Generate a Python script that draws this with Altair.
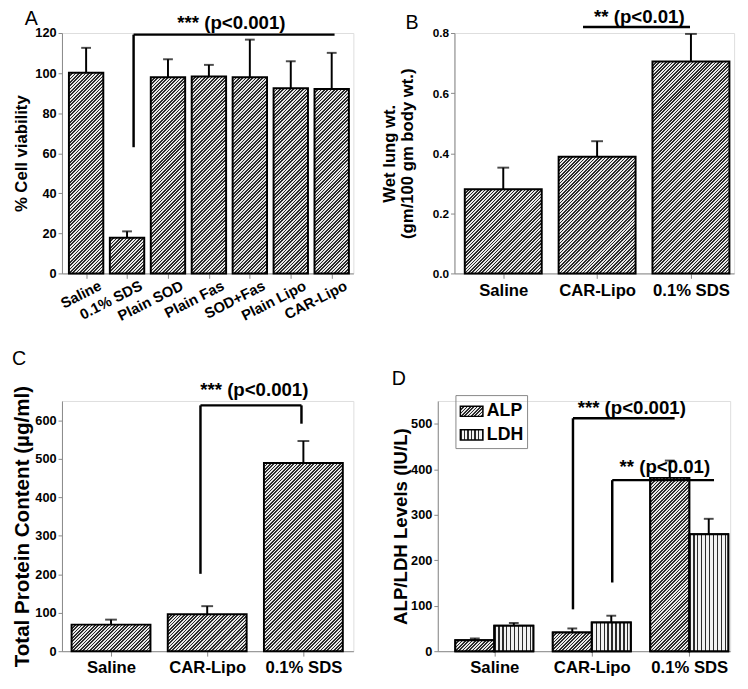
import math
import json
import altair as alt
import pandas as pd

FONT = "Liberation Sans"
DARK = "#2b2b2b"
LIGHT = "#e8e8e8"

# ---------------- data ----------------
a_cats = ["Saline", "0.1% SDS", "Plain SOD", "Plain Fas", "SOD+Fas", "Plain Lipo", "CAR-Lipo"]
a_vals = [100.2, 17.8, 97.9, 98.3, 97.9, 92.4, 92.1]
a_err = [12.4, 3.2, 9.0, 5.8, 18.8, 13.5, 18.0]

b_cats = ["Saline", "CAR-Lipo", "0.1% SDS"]
b_vals = [0.280, 0.388, 0.705]
b_err = [0.072, 0.052, 0.092]

c_cats = ["Saline", "CAR-Lipo", "0.1% SDS"]
c_vals = [69, 96, 489]
c_err = [13, 21, 57]

d_cats = ["Saline", "CAR-Lipo", "0.1% SDS"]
d_series = ["ALP", "LDH"]
d_alp = [24, 41, 381]
d_alp_err = [4, 9, 38]
d_ldh = [56, 63, 257]
d_ldh_err = [6, 15, 34]

a_note = "*** (p<0.001)"
b_note = "** (p<0.01)"
c_note = "*** (p<0.001)"
d_note1 = "*** (p<0.001)"
d_note2 = "** (p<0.01)"


# ---------------- pattern helpers (style only) ----------------
def diag_gradient(w, h, period=2.4):
    L = w + h
    step = period * math.sqrt(2)
    n = int(math.ceil(L / step))
    stops = []
    for k in range(n):
        a = min(1.0, k * step / L)
        b = min(1.0, (k + 0.5) * step / L)
        c = min(1.0, (k + 1) * step / L)
        stops += [
            {"offset": round(a, 4), "color": DARK},
            {"offset": round(b, 4), "color": DARK},
            {"offset": round(b, 4), "color": LIGHT},
            {"offset": round(c, 4), "color": LIGHT},
        ]
    kk = (w + h) / (w * w + h * h)
    return {"gradient": "linear", "x1": 0, "y1": 0, "x2": w * kk, "y2": h * kk, "stops": stops}


def vert_gradient(w, period=4.0, dark_frac=0.35):
    n = int(math.ceil(w / period))
    stops = []
    for k in range(n):
        a = min(1.0, k * period / w)
        b = min(1.0, (k + dark_frac) * period / w)
        c = min(1.0, (k + 1) * period / w)
        stops += [
            {"offset": round(a, 4), "color": DARK},
            {"offset": round(b, 4), "color": DARK},
            {"offset": round(b, 4), "color": "#f2f2f2"},
            {"offset": round(c, 4), "color": "#f2f2f2"},
        ]
    return {"gradient": "linear", "x1": 0, "y1": 0, "x2": 1, "y2": 0, "stops": stops}


def label_expr(labels):
    return "[" + ",".join("'" + l + "'" for l in labels) + "][datum.value]"


def x_axis(labels, size, angle=0, align="center", offset=0, pad=4):
    return alt.Axis(
        values=list(range(len(labels))), labelExpr=label_expr(labels), title=None,
        labelFontSize=size, labelAngle=angle, labelAlign=align, labelOffset=offset,
        labelPadding=pad, labelBaseline="top" if angle == 0 else "middle",
        labelFont=FONT, labelFontWeight="bold", labelColor="black",
        grid=False, tickSize=5, labelOverlap=False,
    )


def y_axis(ticks, title, title_size, lab_size, fmt, title_pad, line_height=None):
    kw = dict(values=ticks, title=title, titleFontSize=title_size, labelFontSize=lab_size,
              format=fmt, grid=False, tickSize=4, titlePadding=title_pad, labelPadding=2,
              labelFont=FONT, labelFontWeight="bold", labelColor="black",
              titleFont=FONT, titleFontWeight="bold", titleColor="black")
    if line_height:
        kw["titleLineHeight"] = line_height
    return alt.Axis(**kw)


def annotations(brackets, notes, xs, ys, xax, yax):
    bdf = pd.DataFrame(brackets, columns=["x", "x2", "y", "y2"])
    ndf = pd.DataFrame(notes, columns=["x", "y", "t"])
    rules = alt.Chart(bdf).mark_rule(color="black", strokeWidth=2.5).encode(
        x=alt.X("x:Q", scale=xs, axis=xax), x2="x2:Q",
        y=alt.Y("y:Q", scale=ys, axis=yax), y2="y2:Q")
    texts = alt.Chart(ndf).mark_text(font=FONT, fontWeight="bold", fontSize=19, color="black",
                                     baseline="middle").encode(
        x=alt.X("x:Q", scale=xs, axis=xax), y=alt.Y("y:Q", scale=ys, axis=yax), text="t:N")
    return [rules, texts]


def letter_title(letter, dx, off):
    return alt.TitleParams(letter, anchor="start", frame="group", dx=dx, offset=off,
                           fontSize=20, font=FONT, fontWeight="normal", color="black")


def panel(letter, title_dx, title_off, cats, vals, errs, xdom, ydom, yticks, ytitle,
          ytitle_size, ylab_size, yfmt, ytitle_pad, width, height, bar_w, cap_w, xax,
          brackets, notes, line_height=None):
    xs = alt.Scale(domain=xdom, nice=False, zero=False)
    ys = alt.Scale(domain=ydom, nice=False)
    yax = y_axis(yticks, ytitle, ytitle_size, ylab_size, yfmt, ytitle_pad, line_height)
    n = len(cats)
    upx = width / (xdom[1] - xdom[0])
    df = pd.DataFrame({
        "i": list(range(n)), "v": vals,
        "top": [v + e for v, e in zip(vals, errs)],
        "lo": [i - bar_w / 2 for i in range(n)],
        "hi": [i + bar_w / 2 for i in range(n)],
        "z": [0] * n,
    })
    layers = []
    for i in range(n):
        g = diag_gradient(bar_w * upx, vals[i] / (ydom[1] - ydom[0]) * height)
        layers.append(
            alt.Chart(df).transform_filter(alt.datum.i == i)
            .mark_bar(fill=g, stroke="black", strokeWidth=2)
            .encode(x=alt.X("lo:Q", scale=xs, axis=xax), x2="hi:Q",
                    y=alt.Y("v:Q", scale=ys, axis=yax), y2="z:Q")
        )
    layers.append(
        alt.Chart(df).mark_rule(color="black", strokeWidth=2)
        .encode(x=alt.X("i:Q", scale=xs, axis=xax), y=alt.Y("v:Q", scale=ys, axis=yax), y2="top:Q")
    )
    layers.append(
        alt.Chart(df).mark_tick(orient="horizontal", color="black", size=cap_w, thickness=2)
        .encode(x=alt.X("i:Q", scale=xs, axis=xax), y=alt.Y("top:Q", scale=ys, axis=yax))
    )
    layers += annotations(brackets, notes, xs, ys, xax, yax)
    return alt.layer(*layers).properties(width=width, height=height,
                                         title=letter_title(letter, title_dx, title_off))


# ---------------- panel A ----------------
A = panel(
    "A", -38, -15, a_cats, a_vals, a_err, [-0.59, 6.53], [0, 120], [0, 20, 40, 60, 80, 100, 120],
    "% Cell viability", 17, 13, "d", 4, 297, 245, 0.84, 10,
    x_axis(a_cats, 15, angle=-27, align="right", offset=14, pad=6),
    [(1.16, 6.07, 119.2, 119.2), (1.16, 1.16, 119.2, 63)],
    [(3.55, 124.8, a_note)],
)

# ---------------- panel B ----------------
B = panel(
    "B", -50, -25, b_cats, b_vals, b_err, [-0.52, 2.46], [0, 0.8], [0, 0.2, 0.4, 0.6, 0.8],
    ["Wet lung wt.", "(gm/100 gm body wt.)"], 17, 12, ".1f", 16, 285, 245, 0.82, 12,
    x_axis(b_cats, 17, pad=4),
    [(0.85, 1.99, 0.82, 0.82)],
    [(1.45, 0.854, b_note)],
    line_height=18,
)

# ---------------- panel C ----------------
C = panel(
    "C", -51, 13, c_cats, c_vals, c_err, [-0.51, 2.52], [0, 650], [0, 100, 200, 300, 400, 500, 600],
    "Total Protein Content (µg/ml)", 21, 13, "d", 2, 297, 255, 0.82, 12,
    x_axis(c_cats, 17, pad=4),
    [(0.93, 1.98, 638.6, 638.6), (0.93, 0.93, 638.6, 201), (1.98, 1.98, 638.6, 591)],
    [(1.49, 677, c_note)],
)

# ---------------- panel D ----------------
d_xs = alt.Scale(domain=[-0.58, 2.42], nice=False, zero=False)
d_ys = alt.Scale(domain=[0, 550], nice=False)
d_xax = x_axis(d_cats, 17, pad=4)
d_yax = y_axis([0, 100, 200, 300, 400, 500], "ALP/LDH Levels (IU/L)", 19, 13, "d", 0)
D_W, D_H, D_BW = 298, 255, 0.4
d_upx = D_W / 3.0
rows = []
for i in range(3):
    rows.append({"s": "ALP", "g": i, "lo": i - D_BW, "hi": i, "c": i - D_BW / 2,
                 "v": d_alp[i], "top": d_alp[i] + d_alp_err[i], "z": 0})
for i in range(3):
    rows.append({"s": "LDH", "g": i, "lo": i, "hi": i + D_BW, "c": i + D_BW / 2,
                 "v": d_ldh[i], "top": d_ldh[i] + d_ldh_err[i], "z": 0})
ddf = pd.DataFrame(rows)

leg_alp = diag_gradient(23, 10.4, period=2.4)
leg_ldh = vert_gradient(23, period=3.6)
legend = alt.Legend(
    orient="none", legendX=18, legendY=-6, title=None, labelFont=FONT, labelFontSize=18,
    labelFontWeight="bold", labelColor="black", labelOffset=3,
    symbolType="M-1,-0.45L1,-0.45L1,0.45L-1,0.45Z", symbolSize=529,
    symbolStrokeColor="black", symbolStrokeWidth=1.5, strokeColor="#888888",
    padding=4, rowPadding=2, symbolOpacity=1,
)
fill_scale = alt.Scale(
    domain=d_series,
    range=[{"expr": json.dumps(leg_alp)}, {"expr": json.dumps(leg_ldh)}],
)
d_layers = [
    alt.Chart(ddf).mark_bar(stroke="black", strokeWidth=2).encode(
        x=alt.X("lo:Q", scale=d_xs, axis=d_xax), x2="hi:Q",
        y=alt.Y("v:Q", scale=d_ys, axis=d_yax), y2="z:Q",
        fill=alt.Fill("s:N", scale=fill_scale, legend=legend),
    )
]
for r in rows:
    w = D_BW * d_upx
    h = r["v"] / 550 * D_H
    g = diag_gradient(w, h) if r["s"] == "ALP" else vert_gradient(w, period=4.0)
    d_layers.append(
        alt.Chart(ddf).transform_filter((alt.datum.s == r["s"]) & (alt.datum.g == r["g"]))
        .mark_bar(fill=g, stroke="black", strokeWidth=2)
        .encode(x=alt.X("lo:Q", scale=d_xs, axis=d_xax), x2="hi:Q",
                y=alt.Y("v:Q", scale=d_ys, axis=d_yax), y2="z:Q")
    )
d_layers.append(alt.Chart(ddf).mark_rule(color="black", strokeWidth=2).encode(
    x=alt.X("c:Q", scale=d_xs, axis=d_xax), y=alt.Y("v:Q", scale=d_ys, axis=d_yax), y2="top:Q"))
d_layers.append(alt.Chart(ddf).mark_tick(orient="horizontal", color="black", size=10, thickness=2).encode(
    x=alt.X("c:Q", scale=d_xs, axis=d_xax), y=alt.Y("top:Q", scale=d_ys, axis=d_yax)))
d_layers += annotations(
    [(0.807, 1.85, 512, 512), (0.807, 0.807, 512, 92), (1.21, 2.254, 376, 376), (1.21, 1.21, 376, 151)],
    [(1.41, 534, d_note1), (1.75, 404, d_note2)],
    d_xs, d_ys, d_xax, d_yax,
)
D = alt.layer(*d_layers).properties(width=D_W, height=D_H, title=letter_title("D", -47, 6))

top = alt.hconcat(A, B, spacing=103, bounds="flush")
bottom = alt.hconcat(C, D, spacing=86, bounds="flush").resolve_legend(fill="independent")
chart = alt.vconcat(top, bottom, spacing=24).resolve_legend(fill="independent").properties(
    padding={"left": 3, "top": -8, "right": 5, "bottom": 5}
).configure_view(stroke=None).configure_axis(
    domainColor="black", domainWidth=2.5, tickColor="black", tickWidth=2,
).configure(background="white")

chart.save("out.html", embed_options={"renderer": "svg", "actions": False})
